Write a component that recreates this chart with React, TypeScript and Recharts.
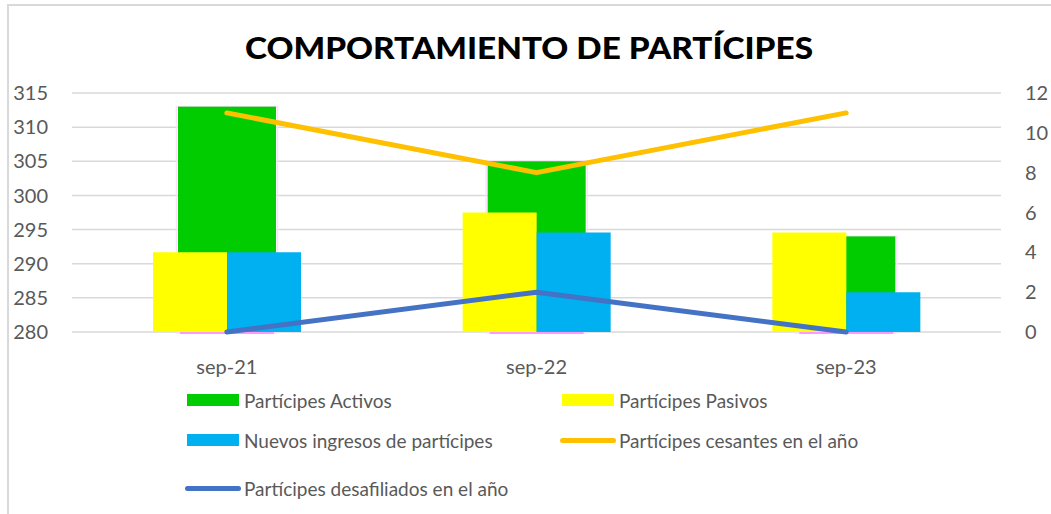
import { Bar, CartesianGrid, ComposedChart, Line, XAxis, YAxis } from "recharts";

const months = ["sep-21", "sep-22", "sep-23"];
const activos = [313, 305, 294];
const pasivos = [4, 6, 5];
const nuevos = [4, 5, 2];
const cesantes = [11, 8, 11];
const desafiliados = [0, 2, 0];

const leftTicks = [280, 285, 290, 295, 300, 305, 310, 315];
const rightTicks = [0, 2, 4, 6, 8, 10, 12];

const series = [
  { key: "activos", name: "Partícipes Activos", color: "#00CC00", kind: "bar" },
  { key: "pasivos", name: "Partícipes Pasivos", color: "#FFFF00", kind: "bar" },
  { key: "nuevos", name: "Nuevos ingresos de partícipes", color: "#00B0F0", kind: "bar" },
  { key: "cesantes", name: "Partícipes cesantes en el año", color: "#FFC000", kind: "line" },
  { key: "desafiliados", name: "Partícipes desafiliados en el año", color: "#4472C4", kind: "line" }
];

const data = months.map((mes, i) => ({
  mes,
  activos: activos[i],
  pasivos: pasivos[i],
  nuevos: nuevos[i],
  cesantes: cesantes[i],
  desafiliados: desafiliados[i]
}));

const font = "Lato, 'Open Sans', sans-serif";
const tickStyle = { fill: "#595959", fontSize: 20, fontFamily: font };

// green bar has a faint pink halo and a pink base line in the original
function ActivosShape(props: any) {
  const { x, y, width, height, fill } = props;
  return (
    <g>
      <rect x={x - 1.5} y={y} width={width + 3} height={height + 1} fill="none" stroke="#fbe0fb" strokeWidth={1.5} />
      <rect x={x} y={y} width={width} height={height} fill={fill} />
      <line x1={x + 2} x2={x + width - 2} y1={y + height + 1} y2={y + height + 1} stroke="#ff80ff" strokeWidth={1.5} />
    </g>
  );
}

const legendPos = [
  { x: 187, y: 400 },
  { x: 562, y: 400 },
  { x: 187, y: 440 },
  { x: 562, y: 440 },
  { x: 187, y: 488 }
];

export default function App() {
  return (
    <div style={{ position: "absolute", left: 0, top: 0, width: 1051, height: 514, overflow: "hidden", background: "#fff" }}>
      <div
        style={{
          position: "absolute",
          left: 7,
          top: 4,
          width: 1060,
          height: 520,
          borderTop: "2px solid #d9d9d9",
          borderLeft: "2px solid #d9d9d9"
        }}
      />
      <svg style={{ position: "absolute", left: 0, top: 0 }} width={1051} height={90}>
        <text
          x={529}
          y={59}
          textAnchor="middle"
          textLength={568}
          lengthAdjust="spacingAndGlyphs"
          fontFamily={font}
          fontWeight={900}
          fontSize={30}
          fill="#000"
        >
          COMPORTAMIENTO DE PARTÍCIPES
        </text>
      </svg>
      <div style={{ position: "absolute", left: 0, top: 0 }}>
        <ComposedChart
          width={1051}
          height={514}
          data={data}
          margin={{ top: 93, right: 10, bottom: 152, left: 12 }}
          barGap={0}
        >
          <CartesianGrid xAxisId="main" yAxisId="left" vertical={false} stroke="#d9d9d9" strokeWidth={1.5} />
          <XAxis
            xAxisId="main"
            dataKey="mes"
            axisLine={false}
            tickLine={false}
            tickSize={0}
            tickMargin={28}
            tick={tickStyle}
            height={30}
          />
          <XAxis xAxisId="sec" dataKey="mes" hide />
          <YAxis
            yAxisId="left"
            domain={[280, 315]}
            ticks={leftTicks}
            axisLine={false}
            tickLine={false}
            tickSize={0}
            tickMargin={24}
            tick={tickStyle}
            width={60}
          />
          <YAxis
            yAxisId="right"
            orientation="right"
            domain={[0, 12]}
            ticks={rightTicks}
            axisLine={false}
            tickLine={false}
            tickSize={0}
            tickMargin={24}
            tick={{ ...tickStyle, textAnchor: "start" }}
            width={40}
          />
          <Bar
            xAxisId="main"
            yAxisId="left"
            dataKey="activos"
            name={series[0].name}
            fill={series[0].color}
            barSize={98}
            shape={ActivosShape}
            isAnimationActive={false}
          />
          <Bar
            xAxisId="sec"
            yAxisId="right"
            dataKey="pasivos"
            name={series[1].name}
            fill={series[1].color}
            barSize={74}
            isAnimationActive={false}
          />
          <Bar
            xAxisId="sec"
            yAxisId="right"
            dataKey="nuevos"
            name={series[2].name}
            fill={series[2].color}
            barSize={74}
            isAnimationActive={false}
          />
          <Line
            xAxisId="main"
            yAxisId="right"
            type="linear"
            dataKey="cesantes"
            name={series[3].name}
            stroke={series[3].color}
            strokeWidth={5}
            strokeLinecap="round"
            strokeLinejoin="round"
            dot={false}
            activeDot={false}
            isAnimationActive={false}
          />
          <Line
            xAxisId="main"
            yAxisId="right"
            type="linear"
            dataKey="desafiliados"
            name={series[4].name}
            stroke={series[4].color}
            strokeWidth={5}
            strokeLinecap="round"
            strokeLinejoin="round"
            dot={false}
            activeDot={false}
            isAnimationActive={false}
          />
        </ComposedChart>
      </div>
      {series.map((s, i) => {
        const p = legendPos[i];
        return (
          <div
            key={s.key}
            style={{
              position: "absolute",
              left: s.kind === "line" ? p.x - 2 : p.x,
              top: p.y - 12,
              height: 24,
              display: "flex",
              alignItems: "center",
              fontFamily: font,
              fontSize: 19,
              color: "#595959",
              whiteSpace: "nowrap"
            }}
          >
            {s.kind === "bar" ? (
              <span style={{ display: "inline-block", width: 52, height: 12, background: s.color, marginRight: 5 }} />
            ) : (
              <span style={{ display: "inline-block", width: 56, height: 5, borderRadius: 3, background: s.color, marginRight: 3 }} />
            )}
            <span>{s.name}</span>
          </div>
        );
      })}
    </div>
  );
}
